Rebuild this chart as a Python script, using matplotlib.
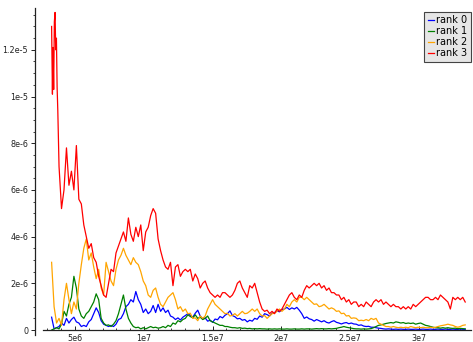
import numpy as np
import matplotlib
matplotlib.use('Agg')
import matplotlib.pyplot as plt
from matplotlib.ticker import MultipleLocator

# sampling grid (event count), one value every 0.18e6
t_start = 3.3e6
t_step = 0.18e6
n_samples = 168

# rate per rank, in units of 1e-6
rank0 = [0.55, 0.05, 0.1, 0.15, 0.3, 0.2, 0.5, 0.3, 0.45, 0.55,
         0.35, 0.3, 0.15, 0.2, 0.15, 0.35, 0.45, 0.7, 0.95, 0.75,
         0.4, 0.25, 0.2, 0.15, 0.2, 0.15, 0.25, 0.45, 0.5, 0.7,
         1.0, 1.1, 1.3, 1.2, 1.65, 1.3, 1.1, 0.75, 0.9, 0.7,
         0.8, 1.05, 0.75, 1.1, 0.8, 0.95, 0.75, 0.85, 0.6, 0.55,
         0.45, 0.52, 0.43, 0.55, 0.62, 0.7, 0.63, 0.55, 0.72, 0.85,
         0.6, 0.48, 0.52, 0.38, 0.42, 0.33, 0.47, 0.44, 0.58, 0.52,
         0.63, 0.7, 0.82, 0.62, 0.57, 0.48, 0.5, 0.42, 0.45, 0.35,
         0.42, 0.38, 0.5, 0.46, 0.6, 0.55, 0.7, 0.66, 0.6, 0.72,
         0.75, 0.82, 0.78, 0.88, 0.9, 0.97, 0.88, 0.95, 0.9, 0.97,
         0.85, 0.7, 0.5, 0.56, 0.48, 0.45, 0.38, 0.45, 0.4, 0.35,
         0.4, 0.33, 0.3, 0.36, 0.4, 0.33, 0.3, 0.26, 0.3, 0.32,
         0.27, 0.3, 0.26, 0.25, 0.2, 0.22, 0.17, 0.15, 0.16, 0.12,
         0.12, 0.1, 0.08, 0.07, 0.05, 0.04, 0.05, 0.04, 0.03, 0.04,
         0.03, 0.04, 0.03, 0.03, 0.04, 0.03, 0.03, 0.04, 0.03, 0.03,
         0.04, 0.03, 0.03, 0.04, 0.03, 0.03, 0.04, 0.03, 0.03, 0.04,
         0.03, 0.03, 0.04, 0.03, 0.03, 0.04, 0.03, 0.03]

rank1 = [0.0, 0.05, 0.1, 0.05, 0.25, 0.8, 0.6, 1.1, 1.4, 2.3,
         1.8, 0.9, 0.6, 0.5, 0.7, 0.8, 1.0, 1.2, 1.55, 1.3,
         0.5, 0.3, 0.2, 0.22, 0.15, 0.25, 0.4, 0.7, 1.1, 1.5,
         0.9, 0.5, 0.3, 0.15, 0.1, 0.12, 0.05, 0.1, 0.05, 0.1,
         0.15, 0.1, 0.12, 0.08, 0.1, 0.15, 0.1, 0.2, 0.15, 0.3,
         0.25, 0.4, 0.35, 0.45, 0.5, 0.65, 0.58, 0.52, 0.65, 0.5,
         0.55, 0.45, 0.5, 0.6, 0.4, 0.35, 0.3, 0.25, 0.2, 0.2,
         0.15, 0.15, 0.12, 0.1, 0.1, 0.08, 0.1, 0.07, 0.08, 0.06,
         0.07, 0.05, 0.06, 0.05, 0.06, 0.05, 0.05, 0.04, 0.05, 0.04,
         0.05, 0.04, 0.05, 0.04, 0.04, 0.05, 0.04, 0.04, 0.05, 0.04,
         0.04, 0.05, 0.04, 0.05, 0.05, 0.04, 0.05, 0.06, 0.05, 0.06,
         0.05, 0.05, 0.06, 0.05, 0.06, 0.07, 0.1, 0.12, 0.15, 0.12,
         0.1, 0.08, 0.06, 0.05, 0.05, 0.04, 0.05, 0.04, 0.05, 0.06,
         0.1, 0.15, 0.2, 0.22, 0.25, 0.28, 0.3, 0.32, 0.3, 0.35,
         0.33, 0.3, 0.32, 0.28, 0.3, 0.28, 0.3, 0.25, 0.28, 0.3,
         0.25, 0.2, 0.18, 0.15, 0.12, 0.1, 0.1, 0.08, 0.1, 0.08,
         0.1, 0.08, 0.07, 0.08, 0.06, 0.07, 0.06, 0.05]

rank2 = [2.9, 1.0, 0.3, 0.5, 0.2, 1.3, 2.0, 1.3, 0.7, 1.2,
         0.9, 2.0, 2.8, 3.5, 3.9, 3.0, 3.3, 2.7, 2.2, 2.6,
         1.8, 1.5, 2.9, 2.5, 2.1, 1.9, 2.6, 3.0, 3.2, 3.5,
         3.2, 3.0, 2.8, 3.1, 2.9, 2.8, 2.5, 2.1, 1.9, 1.5,
         1.4, 1.7, 1.8, 1.4, 1.1, 1.0, 1.2, 1.4, 1.5, 1.6,
         1.3, 0.9, 1.0, 0.8, 0.9, 0.7, 0.72, 0.5, 0.52, 0.4,
         0.6, 0.5, 0.6, 0.9, 1.1, 1.3, 1.1, 1.0, 0.9, 0.8,
         0.7, 0.72, 0.6, 0.63, 0.7, 0.6, 0.7, 0.8, 0.7, 0.72,
         0.8, 0.9, 0.8, 0.9, 0.7, 0.6, 0.62, 0.5, 0.6, 0.7,
         0.72, 0.8, 0.9, 0.8, 0.9, 1.1, 1.0, 1.2, 1.3, 1.2,
         1.4, 1.4, 1.3, 1.4, 1.3, 1.2, 1.1, 1.12, 1.0, 1.03,
         1.1, 1.0, 0.9, 0.95, 0.9, 0.8, 0.82, 0.7, 0.72, 0.6,
         0.62, 0.5, 0.52, 0.5, 0.4, 0.42, 0.4, 0.45, 0.4, 0.5,
         0.45, 0.5, 0.3, 0.25, 0.2, 0.15, 0.15, 0.12, 0.15, 0.12,
         0.1, 0.12, 0.1, 0.12, 0.1, 0.15, 0.12, 0.1, 0.12, 0.1,
         0.12, 0.1, 0.1, 0.12, 0.1, 0.12, 0.15, 0.18, 0.2, 0.22,
         0.25, 0.22, 0.2, 0.15, 0.12, 0.15, 0.2, 0.22]

# rank 3 opens with a burst sampled finer than the grid
rank3_burst_t = [3.30, 3.36, 3.40, 3.45, 3.50, 3.55, 3.60, 3.65, 3.70, 3.75, 3.80]
rank3_burst = [13.0, 10.1, 12.1, 10.3, 13.2, 13.6, 12.0, 12.5, 10.4, 9.4, 8.0]
rank3 = [7.0, 5.2, 6.0, 7.8, 6.2, 6.8, 6.0,
         7.9, 5.6, 5.4, 4.5, 4.0, 3.5, 3.7, 3.1, 2.9, 2.3,
         1.9, 1.5, 1.4, 2.0, 2.6, 2.5, 3.3, 3.6, 3.9, 4.2,
         3.8, 4.8, 4.1, 3.8, 4.4, 4.0, 4.5, 3.4, 4.2, 4.4,
         4.9, 5.2, 5.0, 3.9, 3.4, 3.0, 2.7, 2.6, 2.9, 1.9,
         2.7, 2.8, 2.3, 2.5, 2.6, 2.5, 2.6, 2.1, 2.4, 2.2,
         1.8, 2.0, 2.1, 1.8, 1.6, 1.5, 1.4, 1.5, 1.4, 1.6,
         1.6, 1.5, 1.4, 1.5, 1.7, 2.0, 2.1, 1.8, 1.6, 1.4,
         1.9, 1.8, 2.0, 1.6, 1.2, 0.9, 0.8, 0.85, 0.7, 0.8,
         0.7, 0.9, 0.8, 0.9, 1.1, 1.3, 1.5, 1.6, 1.4, 1.3,
         1.5, 1.4, 1.7, 1.9, 1.8, 1.9, 2.0, 1.9, 2.0, 1.8,
         1.9, 1.7, 1.8, 1.6, 1.6, 1.5, 1.5, 1.3, 1.4, 1.2,
         1.3, 1.1, 1.2, 1.2, 1.0, 1.1, 1.0, 1.2, 1.1, 1.0,
         1.2, 1.3, 1.2, 1.3, 1.1, 1.2, 1.1, 1.0, 1.1, 1.0,
         1.0, 0.9, 1.0, 0.9, 1.0, 0.9, 1.1, 1.0, 1.1, 1.2,
         1.3, 1.4, 1.4, 1.3, 1.3, 1.4, 1.3, 1.5, 1.4, 1.3,
         1.2, 0.9, 1.4, 1.3, 1.4, 1.3, 1.4, 1.2]

labels = ['rank 0', 'rank 1', 'rank 2', 'rank 3']
colors = ['#0000ff', '#008000', '#ffa500', '#ff0000']

x_ticks = [5e6, 1e7, 1.5e7, 2e7, 2.5e7, 3e7]
x_tick_labels = ['5e6', '1e7', '1.5e7', '2e7', '2.5e7', '3e7']
y_ticks = [0, 2e-6, 4e-6, 6e-6, 8e-6, 1e-5, 1.2e-5]
y_tick_labels = ['0', '2e-6', '4e-6', '6e-6', '8e-6', '1e-5', '1.2e-5']


t = t_start + t_step * np.arange(n_samples)
t3 = np.concatenate([np.array(rank3_burst_t) * 1e6, t[3:]])
y3 = np.concatenate([rank3_burst, rank3])
series = [(t, rank0), (t, rank1), (t, rank2), (t3, y3)]

fig = plt.figure(figsize=(4.73, 3.42), dpi=100)
ax = fig.add_axes([35 / 473, 1 - 334.7 / 342, 436 / 473, 326.7 / 342])

for (xs, ys), lab, col in zip(series, labels, colors):
    ax.plot(xs, np.array(ys) * 1e-6, color=col, lw=0.9, label=lab)

ax.set_xlim(2.093e6, 3.378e7)
ax.set_ylim(-0.2e-6, 13.79e-6)

for side in ['top', 'right']:
    ax.spines[side].set_visible(False)
ax.spines['bottom'].set_position(('data', 0))
ax.spines['bottom'].set_bounds(2.67e6, 3.378e7)
for side in ['left', 'bottom']:
    ax.spines[side].set_color('#222222')
    ax.spines[side].set_linewidth(0.9)

ax.set_xticks(x_ticks, x_tick_labels)
ax.set_yticks(y_ticks, y_tick_labels)
ax.xaxis.set_minor_locator(MultipleLocator(1e6))
ax.yaxis.set_minor_locator(MultipleLocator(0.5e-6))
ax.tick_params(axis='x', which='both', direction='in', labelsize=5.8,
               pad=2.5, colors='#222222')
ax.tick_params(axis='y', which='both', direction='out', labelsize=5.8,
               pad=2, colors='#222222')
ax.tick_params(which='major', length=3, width=0.7)
ax.tick_params(which='minor', length=1.6, width=0.6)

leg = ax.legend(loc='upper right', bbox_to_anchor=(471 / 473, 1 - 12 / 342),
                bbox_transform=fig.transFigure, fontsize=7, handlelength=0.7,
                handletextpad=0.2, borderpad=0.35, labelspacing=0.1,
                borderaxespad=0, fancybox=False, framealpha=1,
                facecolor='#e6e6e6', edgecolor='#444444')
leg.get_frame().set_linewidth(0.8)

fig.savefig('out.png', dpi=100)
